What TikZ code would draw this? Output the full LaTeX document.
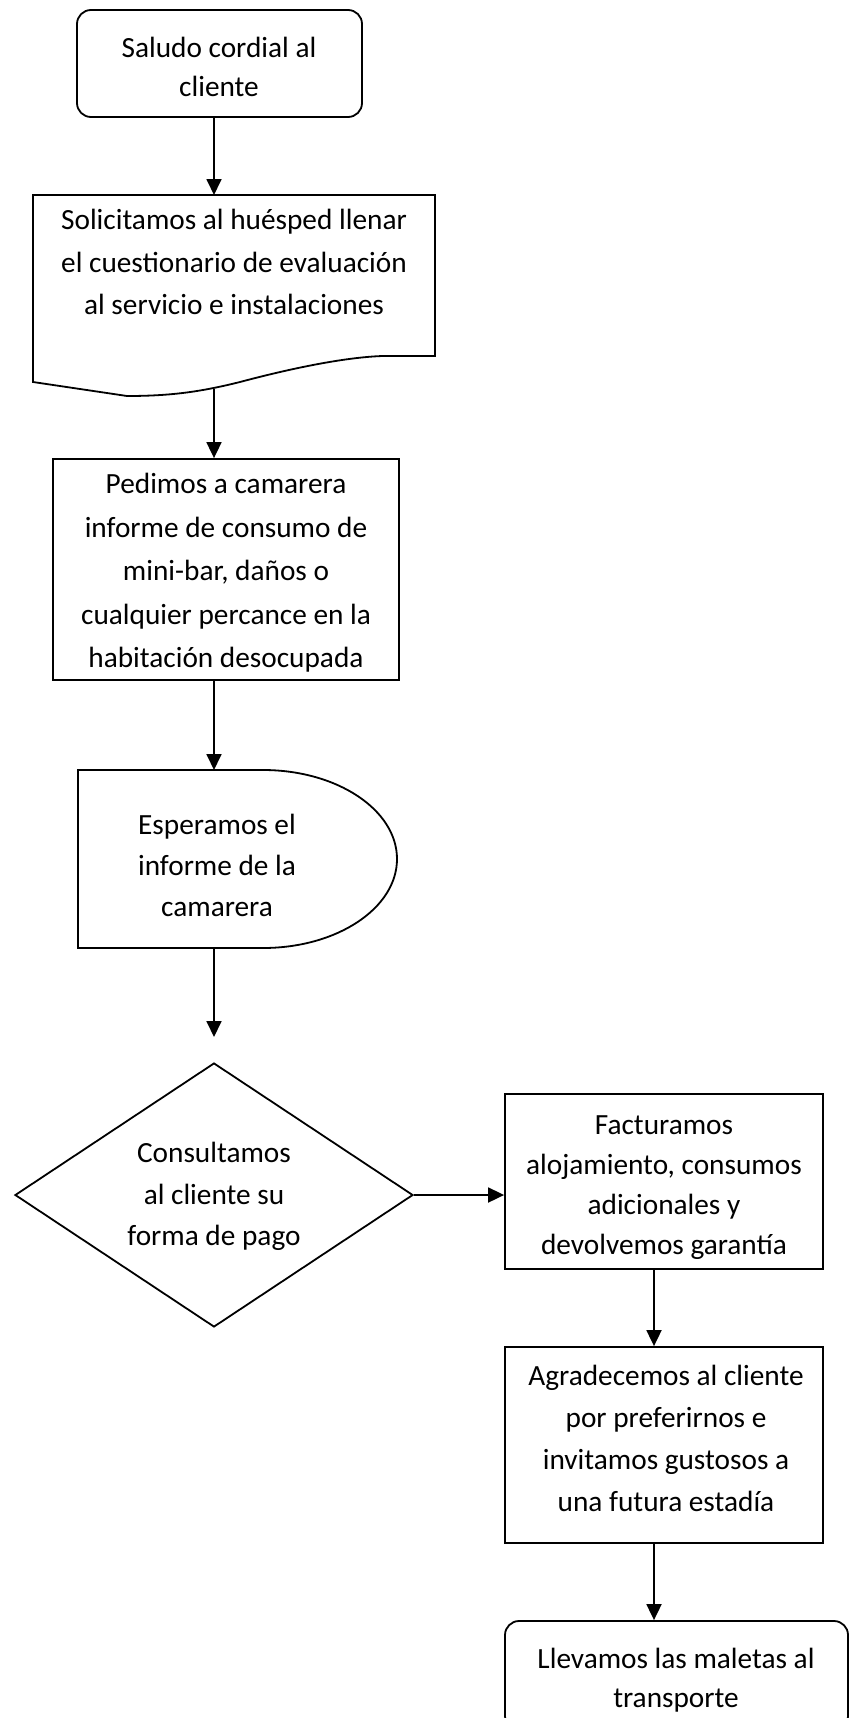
\documentclass[tikz,border=0pt]{standalone}
\usepackage{fontspec}
\setmainfont{Carlito}
\usetikzlibrary{arrows.meta,shapes.geometric}
\begin{document}
\begin{tikzpicture}[x=1pt,y=-1pt,
  shp/.style={draw, line width=1.8pt},
  box/.style={draw, line width=1.8pt, inner sep=0pt},
  tx/.style={align=center, inner sep=0pt, anchor=north,
    font=\fontsize{29.3}{#1}\selectfont,
    execute at begin node={\fontsize{29.3}{#1}\selectfont\strut}},
  conn/.style={line width=1.8pt, -{Triangle[length=16pt,width=15pt]}}
]
\useasboundingbox (0,0) rectangle (855,1718);
\clip (0,0) rectangle (855,1718);

% start box
\node[box, rounded corners=14pt, minimum width=285pt, minimum height=107pt] (start) at (219.5,63.5) {};
\node[tx=39] (t1) at (219,37) {Saludo cordial al\\cliente};

% document shape
\coordinate (doctop) at (214,195);
\coordinate (docb) at (214,388.5);
\draw[shp] (33,195) -- (435,195) -- (435,356) -- (383,356)
  .. controls (350,357) and (300,366) .. (240,382)
  .. controls (200,392) and (170,396) .. (127,396) -- (33,382) -- cycle;
\node[tx=42.5] (t2) at (234,209) {Solicitamos al huésped llenar\\el cuestionario de evaluación\\al servicio e instalaciones};

% process box
\node[box, minimum width=346pt, minimum height=221pt] (p3) at (226,569.5) {};
\node[tx=43.5] (t3) at (226,473) {Pedimos a camarera\\informe de consumo de\\mini-bar, daños o\\cualquier percance en la\\habitación desocupada};

% delay shape
\coordinate (deltop) at (214,770);
\coordinate (delbot) at (214,948);
\draw[shp] (78,770) -- (263,770) arc[start angle=90, end angle=-90, x radius=134pt, y radius=89pt] -- (78,948) -- cycle;
\node[tx=41] (t4) at (217,814) {Esperamos el\\informe de la\\camarera};
\coordinate (a4end) at (214,1037);

% decision
\node[shp, diamond, inner sep=0pt, minimum width=398pt, minimum height=264pt] (dia) at (214,1195) {};
\node[tx=41.5] (t5) at (214,1142) {Consultamos\\al cliente su\\forma de pago};

% box F
\node[box, minimum width=318pt, minimum height=175pt] (boxF) at (664,1181.5) {};
\begin{scope}
\clip (505,1094) rectangle (823,1258);
\node[tx=40] (t6) at (664,1115) {Facturamos\\alojamiento, consumos\\adicionales y\\devolvemos garantía};
\end{scope}

% box A
\node[box, minimum width=318pt, minimum height=196pt] (boxA) at (664,1445) {};
\node[tx=42] (t7) at (666,1365) {Agradecemos al cliente\\por preferirnos e\\invitamos gustosos a\\una futura estadía};

% final box
\node[box, rounded corners=14pt, minimum width=343pt, minimum height=109pt] (fin) at (676.5,1675.5) {};
\node[tx=39] (t8) at (676,1648) {Llevamos las maletas al\\transporte};

% connectors
\draw[conn] (start.south -| doctop) -- (doctop);
\draw[conn] (docb) -- (docb |- p3.north);
\draw[conn] (p3.south -| deltop) -- (deltop);
\draw[conn] (delbot) -- (a4end);
\draw[conn] (dia.east) -- (dia.east -| boxF.west);
\draw[conn] ([xshift=-10pt]boxF.south) -- ([xshift=-10pt]boxA.north);
\draw[conn] ([xshift=-10pt]boxA.south) -- ([xshift=-22.5pt]fin.north);
\end{tikzpicture}
\end{document}
